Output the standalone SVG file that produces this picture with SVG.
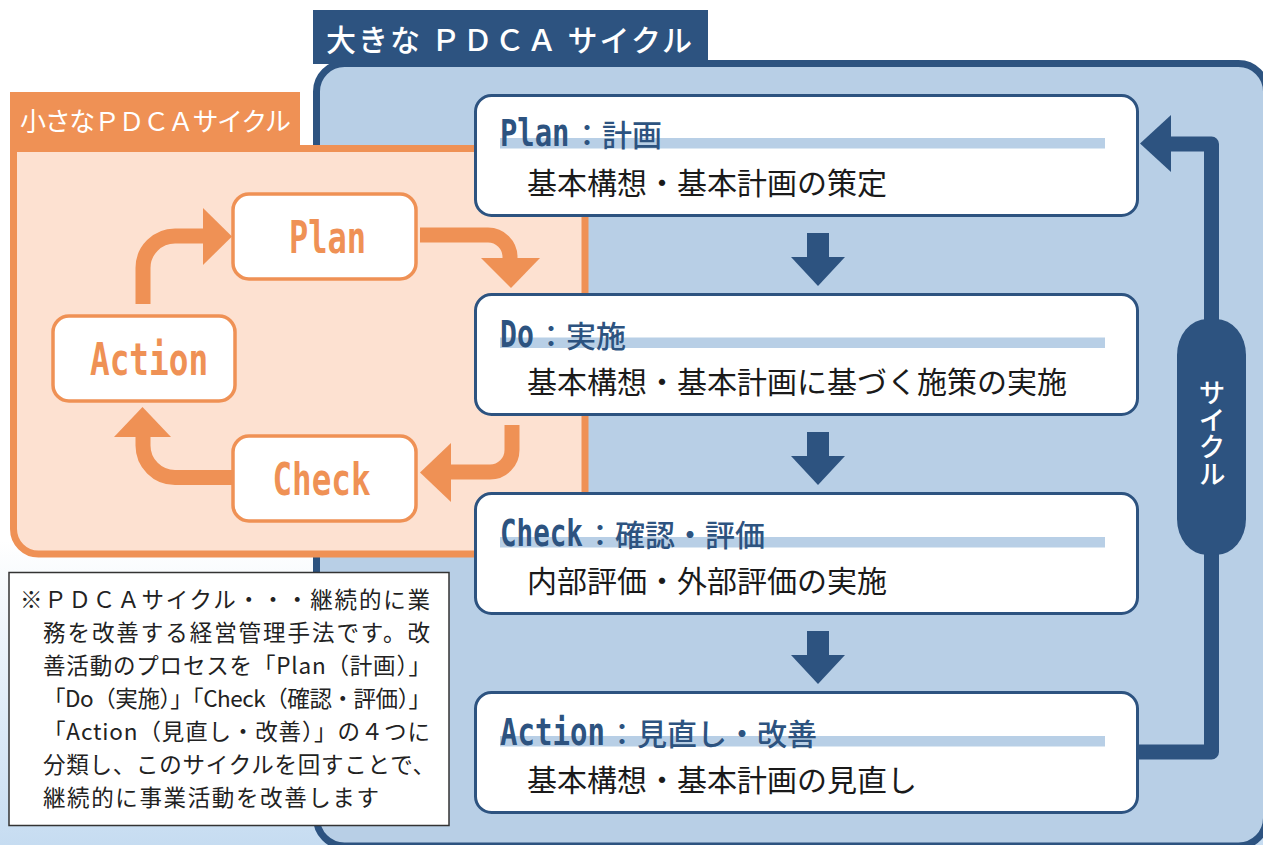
<svg xmlns="http://www.w3.org/2000/svg" width="1263" height="845" viewBox="0 0 1263 845">
<defs>
<linearGradient id="bg" x1="0" y1="0" x2="0" y2="1">
<stop offset="0" stop-color="#ffffff"/>
<stop offset="0.64" stop-color="#ffffff"/>
<stop offset="1" stop-color="#c6dcf1"/>
</linearGradient>
<style>
.jp{font-family:'Noto Sans CJK JP','Noto Sans CJK SC',sans-serif;}
.mono{font-family:'DejaVu Sans Mono','Liberation Mono',monospace;font-weight:bold;}
.obox{fill:#ffffff;stroke:#ef9155;stroke-width:3.5;}
.otxt{fill:#ef9155;font-size:44px;}
.oarr{fill:none;stroke:#ef9155;stroke-width:15;}
.ohead{fill:#ef9155;}
.bbox{fill:#ffffff;stroke:#2d5380;stroke-width:3;}
.bar{fill:#b8cfe6;}
.hen{fill:#2d5380;font-size:37px;}
.hjp{fill:#2d5380;font-size:30px;font-weight:500;}
.sub{fill:#1a1a1a;font-size:30px;}
.darr{fill:#2d5380;}
.note{fill:#222222;font-size:22.5px;}
</style>
</defs>
<rect x="0" y="0" width="1263" height="845" fill="url(#bg)"/>

<g id="big-panel">
<rect x="316.5" y="63.5" width="950" height="782.5" rx="28" fill="#b8cfe6" stroke="#2d5380" stroke-width="7"/>
<rect x="313" y="10" width="395" height="54" fill="#2d5380"/>
<text class="jp" x="326" y="51" font-size="30" font-weight="500" fill="#ffffff" textLength="366" lengthAdjust="spacing">大きな ＰＤＣＡ サイクル</text>
</g>

<g id="small-panel">
<path d="M13.5 148.5 H585 V554 H38.5 A25 25 0 0 1 13.5 529 Z" fill="#fde1d1" stroke="#ef9155" stroke-width="7"/>
<rect x="10" y="92" width="290" height="55" fill="#ef9155"/>
<text class="jp" x="20" y="131" font-size="26" fill="#ffffff" textLength="271" lengthAdjust="spacing">小さなＰＤＣＡサイクル</text>
</g>

<g id="small-connectors">
<path class="oarr" d="M143 304 V268 A32 32 0 0 1 175 236 H206"/>
<polygon class="ohead" points="203,208 232,236.5 203,265"/>
<path class="oarr" d="M420 235 H488 A22 22 0 0 1 510 257 V262"/>
<polygon class="ohead" points="481,258 540,258 511,288"/>
<path class="oarr" d="M512 425 V450 A22 22 0 0 1 490 472 H448"/>
<polygon class="ohead" points="451,443 420,472.5 451,502"/>
<path class="oarr" d="M232 477.5 H175 A32 32 0 0 1 143 445.5 V434"/>
<polygon class="ohead" points="114,437 171,437 142.5,407"/>
</g>

<g id="small-plan">
<rect class="obox" x="233" y="194" width="183" height="85" rx="16"/>
<text class="mono otxt" transform="translate(289 253) scale(0.727 1)">Plan</text>
</g>
<g id="small-action">
<rect class="obox" x="53" y="316" width="182" height="85" rx="16"/>
<text class="mono otxt" transform="translate(90 375) scale(0.743 1)">Action</text>
</g>
<g id="small-check">
<rect class="obox" x="233" y="436" width="183" height="85" rx="16"/>
<text class="mono otxt" transform="translate(272.5 495) scale(0.74 1)">Check</text>
</g>

<g id="big-connectors">
<rect class="darr" x="807" y="233" width="22" height="25"/>
<polygon class="darr" points="791,257 845,257 818,286"/>
<rect class="darr" x="807" y="432" width="22" height="25"/>
<polygon class="darr" points="791,456 845,456 818,485"/>
<rect class="darr" x="807" y="631" width="22" height="25"/>
<polygon class="darr" points="791,655 845,655 818,684"/>
<path d="M1138 752 H1211.5 V144 H1166" fill="none" stroke="#2d5380" stroke-width="15" stroke-linejoin="round"/>
<polygon class="darr" points="1171,115 1140,143.5 1171,172"/>
</g>

<g id="cycle-label">
<rect x="1177" y="319" width="69" height="236" rx="30" ry="36" fill="#2d5380"/>
<text class="jp" x="1212" y="379" font-size="27" font-weight="500" fill="#ffffff" style="writing-mode:vertical-rl">サイクル</text>
</g>

<g id="big-plan">
<rect class="bbox" x="475.5" y="95.5" width="662" height="120" rx="16"/>
<rect class="bar" x="500" y="138" width="605" height="10.5"/>
<text class="mono hen" transform="translate(500 146) scale(0.78 1)">Plan</text>
<text class="jp hjp" x="572" y="146">：計画</text>
<text class="jp sub" x="527" y="194">基本構想・基本計画の策定</text>
</g>

<g id="big-do">
<rect class="bbox" x="475.5" y="294.5" width="662" height="120" rx="16"/>
<rect class="bar" x="500" y="337.5" width="605" height="10.5"/>
<text class="mono hen" transform="translate(500 346.5) scale(0.76 1)">Do</text>
<text class="jp hjp" x="536" y="346.5">：実施</text>
<text class="jp sub" x="527" y="393">基本構想・基本計画に基づく施策の実施</text>
</g>

<g id="big-check">
<rect class="bbox" x="475.5" y="493.5" width="662" height="120" rx="16"/>
<rect class="bar" x="500" y="537" width="605" height="10.5"/>
<text class="mono hen" transform="translate(500 545.5) scale(0.745 1)">Check</text>
<text class="jp hjp" x="585" y="545.5">：確認・評価</text>
<text class="jp sub" x="527" y="592">内部評価・外部評価の実施</text>
</g>

<g id="big-action">
<rect class="bbox" x="475.5" y="692.5" width="662" height="120" rx="16"/>
<rect class="bar" x="500" y="736" width="605" height="10.5"/>
<text class="mono hen" transform="translate(500 744.5) scale(0.785 1)">Action</text>
<text class="jp hjp" x="607" y="744.5">：見直し・改善</text>
<text class="jp sub" x="527" y="791">基本構想・基本計画の見直し</text>
</g>

<g id="note">
<rect x="9" y="572.5" width="440" height="253" fill="#ffffff" stroke="#333333" stroke-width="1.5"/>
<text class="jp note" x="20" y="608" textLength="410" lengthAdjust="spacing">※ＰＤＣＡサイクル・・・継続的に業</text>
<text class="jp note" x="43" y="641" textLength="387" lengthAdjust="spacing">務を改善する経営管理手法です。改</text>
<text class="jp note" x="43" y="674" textLength="388" lengthAdjust="spacing">善活動のプロセスを「Plan（計画）」</text>
<text class="jp note" x="43" y="707" textLength="388" lengthAdjust="spacing">「Do（実施）」「Check（確認・評価）」</text>
<text class="jp note" x="43" y="740" textLength="387" lengthAdjust="spacing">「Action（見直し・改善）」の４つに</text>
<text class="jp note" x="43" y="773" textLength="392" lengthAdjust="spacing">分類し、このサイクルを回すことで、</text>
<text class="jp note" x="43" y="806" textLength="336" lengthAdjust="spacing">継続的に事業活動を改善します</text>
</g>
</svg>
